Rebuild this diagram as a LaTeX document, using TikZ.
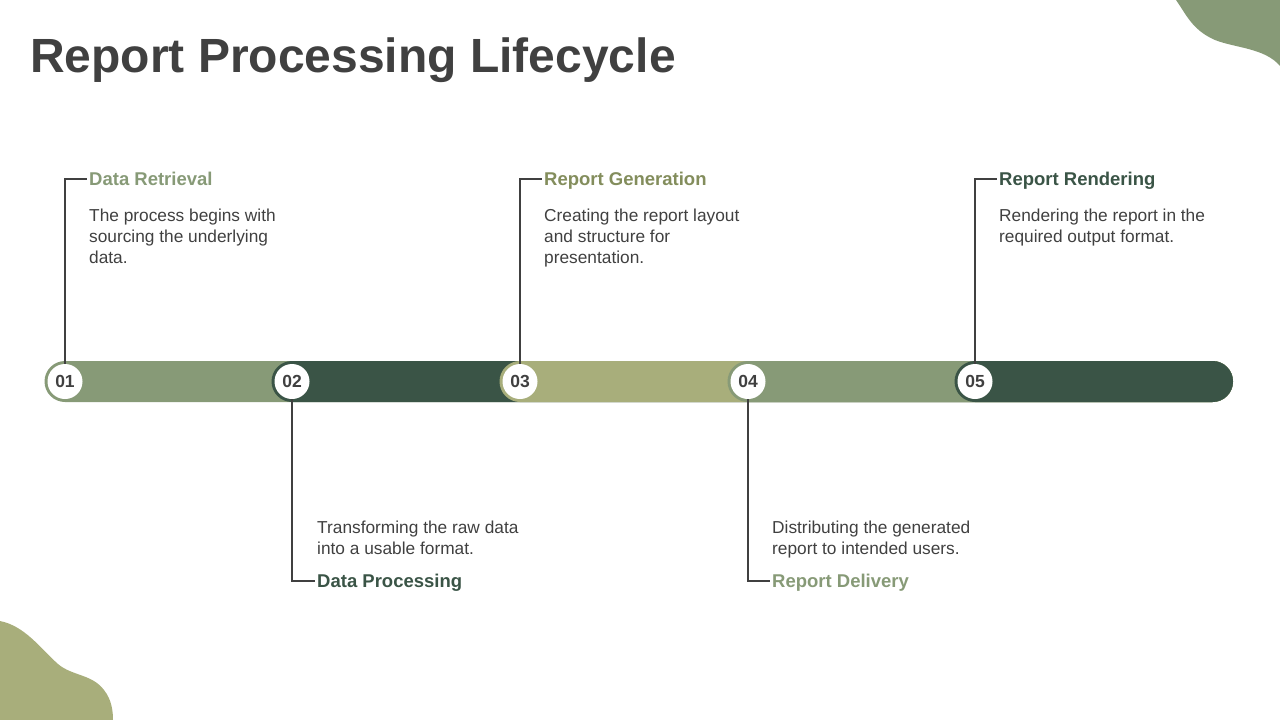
\documentclass[tikz,border=0pt]{standalone}
\usepackage{fontspec}
\setmainfont{Liberation Sans}
\definecolor{lgreen}{HTML}{879A77}
\definecolor{dgreen}{HTML}{3A5446}
\definecolor{olive}{HTML}{A8AE7B}
\definecolor{olivetxt}{HTML}{838D5C}
\definecolor{txt}{HTML}{404040}
\begin{document}
\begin{tikzpicture}[x=1pt,y=-1pt,
  numcirc/.style={circle, fill=white, minimum size=35pt, inner sep=0pt, text=txt, font=\fontsize{17.5}{17.5}\selectfont\bfseries},
  heading/.style={anchor=west, inner xsep=2pt, inner ysep=0pt, text height=13.4pt, text depth=0pt, font=\fontsize{18.5}{22}\selectfont\bfseries},
  body/.style={anchor=base west, inner sep=0pt, align=left, text=txt, font=\fontsize{17.3}{21}\selectfont},
  conn/.style={draw=txt, line width=1.6pt}
]
\useasboundingbox (0,0) rectangle (1280,720);
% blobs
\fill[lgreen] (1176,0) .. controls (1186,14) and (1192,30) .. (1215,40)
  .. controls (1235,48) and (1265,48) .. (1280,66) -- (1280,0) -- cycle;
\fill[olive] (0,621) .. controls (25,626) and (40,648) .. (58,664)
  .. controls (72,676) and (92,674) .. (104,690)
  .. controls (112,700) and (113,712) .. (113,720) -- (0,720) -- cycle;
% title
\node[anchor=base west, inner sep=0pt, text=txt, font=\fontsize{48}{50}\selectfont\bfseries] (title) at (30,72) {Report Processing Lifecycle};
% bar segments
\fill[lgreen, rounded corners=20.5pt] (44.5,361) rectangle (1233,402);
\fill[dgreen, rounded corners=20.5pt] (271.5,361) rectangle (1233,402);
\fill[olive, rounded corners=20.5pt] (499.5,361) rectangle (1233,402);
\fill[lgreen, rounded corners=20.5pt] (727.5,361) rectangle (1233,402);
\fill[dgreen, rounded corners=20.5pt] (954.5,361) rectangle (1233,402);
% circles
\node[numcirc] (c1) at (65,381.5) {01};
\node[numcirc] (c2) at (292,381.5) {02};
\node[numcirc] (c3) at (520,381.5) {03};
\node[numcirc] (c4) at (748,381.5) {04};
\node[numcirc] (c5) at (975,381.5) {05};
% headings
\node[heading, text=lgreen] (h1) at (87,179) {Data Retrieval};
\node[heading, text=dgreen] (h2) at (315,581) {Data Processing};
\node[heading, text=olivetxt] (h3) at (542,179) {Report Generation};
\node[heading, text=lgreen] (h4) at (770,581) {Report Delivery};
\node[heading, text=dgreen] (h5) at (997,179) {Report Rendering};
% bodies (base = last line's baseline)
\node[body] (b1) at (89,263) {The process begins with\\sourcing the underlying\\data.};
\node[body] (b2) at (317,554) {Transforming the raw data\\into a usable format.};
\node[body] (b3) at (544,263) {Creating the report layout\\and structure for\\presentation.};
\node[body] (b4) at (772,554) {Distributing the generated\\report to intended users.};
\node[body] (b5) at (999,242) {Rendering the report in the\\required output format.};
% connectors
\draw[conn] (c1.north) |- (h1.west);
\draw[conn] (c2.south) |- (h2.west);
\draw[conn] (c3.north) |- (h3.west);
\draw[conn] (c4.south) |- (h4.west);
\draw[conn] (c5.north) |- (h5.west);
\end{tikzpicture}
\end{document}
